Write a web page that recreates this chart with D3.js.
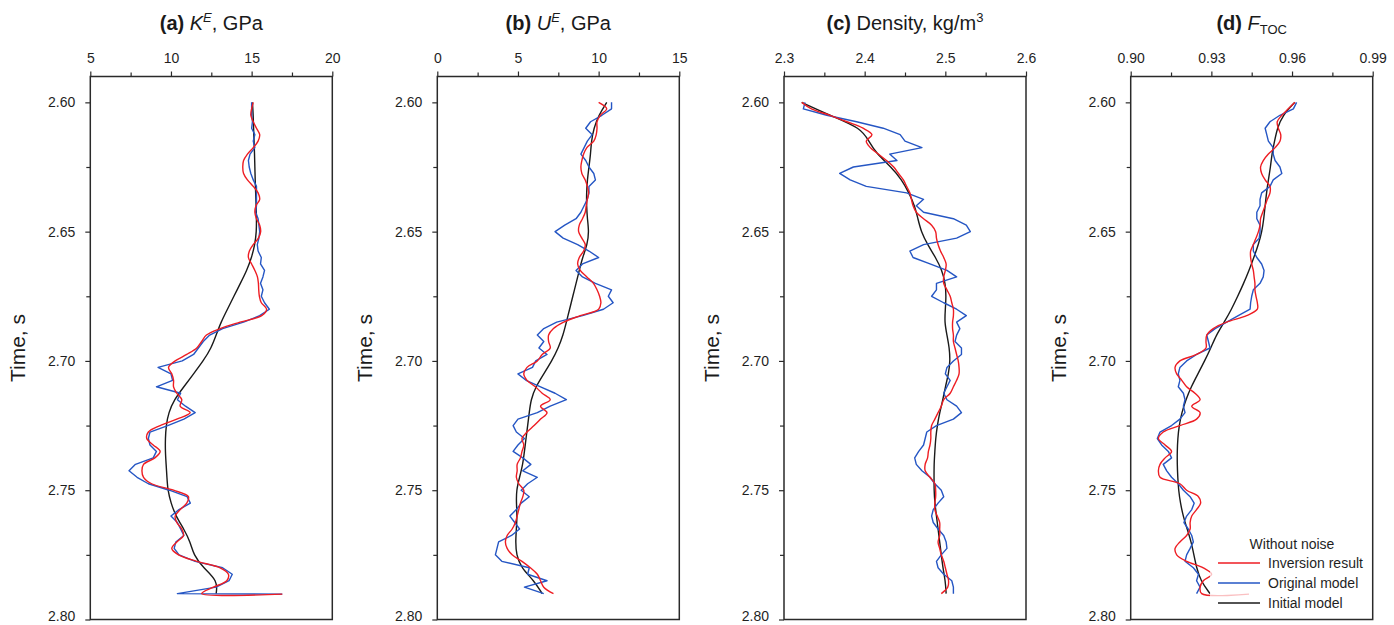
<!DOCTYPE html>
<html>
<head>
<meta charset="utf-8">
<script src="https://cdn.jsdelivr.net/npm/d3@7"></script>
<style>
  html, body { margin: 0; padding: 0; background: #fff; }
  svg { display: block; font-family: "Liberation Sans", Arial, Helvetica, sans-serif; }
</style>
</head>
<body>
<svg id="chart" width="1394" height="625"></svg>
<script>
// ---- sample grids (two-way travel time, s) ----
const timeFine = d3.range(77).map(i => +(2.60 + i * 0.0025).toFixed(4));   // 2.600 .. 2.790
const timeCoarse = d3.range(39).map(i => +(2.60 + i * 0.005).toFixed(3));  // 2.600 .. 2.790
const timeTicks = [2.60, 2.65, 2.70, 2.75, 2.80];
const timeMinor = [2.625, 2.675, 2.725, 2.775];

// ---- (a) effective bulk modulus K^E, GPa ----
const kTicks = [5, 10, 15, 20];
const kMinor = [7.5, 12.5, 17.5];
const kInversion = [15.1, 15.0, 14.95, 15.1, 15.3, 15.5, 15.4, 15.1, 14.74, 14.5,
  14.45, 14.5, 14.74, 15.1, 15.4, 15.5, 15.27, 15.2, 15.3, 15.5,
  15.56, 15.42, 15.1, 14.86, 14.8, 15.0, 15.2, 15.36, 15.42, 15.44,
  15.48, 15.6, 15.93, 15.62, 14.28, 13.05, 12.2, 11.9, 11.6, 10.98,
  10.26, 9.85, 10.05, 10.16, 10.16, 10.36, 10.67, 10.57, 11.19, 10.36,
  9.33, 8.6, 8.5, 8.9, 9.33, 9.0, 8.3, 8.2, 8.3, 8.8,
  10.16, 11.08, 10.98, 10.57, 10.26, 10.36, 10.67, 10.78, 10.36, 10.05,
  10.47, 11.6, 13.05, 13.56, 13.46, 12.63, 11.9];
const kOriginal = [15.0, 15.0, 15.0, 15.05, 15.0, 15.2, 15.1, 15.2, 14.9, 14.8,
  14.85, 14.95, 15.1, 15.3, 15.3, 15.3, 15.3, 15.25, 15.4, 15.45,
  15.5, 15.45, 15.35, 15.4, 15.6, 15.55, 15.8, 15.7, 15.55, 15.7,
  15.6, 15.8, 16.1, 15.5, 14.5, 13.2, 12.4, 12.0, 11.7, 11.4,
  10.7, 9.2, 10.0, 10.1, 9.1, 10.6, 10.4, 10.9, 11.5, 10.8,
  9.8, 8.7, 8.6, 8.7, 9.1, 8.9, 7.8, 7.4, 7.9, 8.6,
  9.9, 11.0, 11.2, 10.5, 10.0, 10.4, 10.6, 10.8, 10.3, 10.2,
  10.5, 11.5, 13.2, 13.8, 13.6, 12.8, 10.4];
const kInitial = [15.05, 15.1, 15.12, 15.15, 15.18, 15.2, 15.22, 15.25, 15.28, 15.3,
  15.3, 15.2, 15.0, 14.7, 14.3, 13.9, 13.5, 13.1, 12.8, 12.5,
  12.0, 11.4, 10.8, 10.2, 9.85, 9.7, 9.65, 9.65, 9.7, 9.75,
  9.8, 10.0, 10.3, 10.8, 11.2, 11.4, 12.0, 12.9, 12.8];
const kInversionEdge = [[2.7902, 16.9]];
const kOriginalEdge = [[2.7902, 16.9]];

// ---- (b) effective shear modulus U^E, GPa ----
const uTicks = [0, 5, 10, 15];
const uMinor = [2.5, 7.5, 12.5];
const uInversion = [10.0, 10.5, 10.1, 9.9, 9.9, 9.85, 9.7, 9.27, 9.07, 8.96,
  8.9, 8.96, 9.17, 9.3, 9.38, 9.3, 9.23, 9.17, 9.0, 8.8,
  8.76, 8.96, 9.17, 9.07, 8.8, 8.7, 8.86, 9.27, 9.68, 9.9,
  10.06, 10.14, 10.0, 8.86, 7.83, 7.2, 6.9, 6.9, 7.0, 6.5,
  6.2, 5.56, 5.36, 5.56, 6.08, 6.5, 7.0, 6.4, 6.8, 6.4,
  6.0, 5.56, 5.25, 5.36, 5.25, 5.15, 4.95, 4.95, 4.9, 5.05,
  5.36, 5.3, 5.15, 5.05, 4.95, 4.84, 4.64, 4.33, 4.22, 4.33,
  4.64, 5.25, 5.77, 6.2, 6.4, 6.6, 7.2];
const uOriginal = [10.8, 10.8, 10.2, 9.5, 9.2, 9.6, 9.3, 9.1, 8.9, 9.2,
  9.4, 9.7, 9.8, 9.4, 9.4, 9.3, 9.1, 8.9, 8.6, 7.9,
  7.3, 7.8, 8.7, 9.4, 10.0, 9.0, 8.6, 9.0, 9.8, 10.8,
  10.6, 10.9, 10.3, 9.0, 7.4, 6.6, 6.2, 6.6, 6.3, 6.8,
  6.1, 5.9, 5.0, 5.5, 6.4, 7.3, 8.0, 7.0, 6.2, 5.0,
  4.7, 4.9, 5.4, 5.0, 4.7, 5.3, 5.8, 5.3, 6.2, 5.6,
  5.2, 5.7, 5.2, 4.9, 4.5, 4.8, 5.1, 4.6, 3.8, 3.7,
  3.6, 4.0, 5.7, 5.6, 6.8, 5.4, 6.6];
const uInitial = [10.5, 10.0, 9.7, 9.55, 9.5, 9.4, 9.3, 9.25, 9.25, 9.3,
  9.4, 9.3, 9.0, 8.8, 8.6, 8.4, 8.2, 8.0, 7.8, 7.5,
  7.1, 6.6, 6.1, 5.8, 5.7, 5.6, 5.5, 5.4, 5.3, 5.1,
  4.9, 4.9, 4.95, 4.9, 4.85, 4.9, 5.2, 6.0, 6.5];

// ---- (c) density ----
const rhoTicks = [2.3, 2.4, 2.5, 2.6];
const rhoMinor = [2.35, 2.45, 2.55];
const rhoInversion = [2.322, 2.334, 2.357, 2.378, 2.398, 2.409, 2.402, 2.407, 2.417, 2.427,
  2.436, 2.442, 2.448, 2.452, 2.456, 2.458, 2.460, 2.464, 2.473, 2.483,
  2.488, 2.489, 2.491, 2.494, 2.498, 2.501, 2.500, 2.498, 2.498, 2.502,
  2.506, 2.508, 2.510, 2.510, 2.509, 2.509, 2.510, 2.510, 2.512, 2.514,
  2.516, 2.517, 2.517, 2.514, 2.510, 2.506, 2.498, 2.495, 2.491, 2.487,
  2.483, 2.482, 2.482, 2.481, 2.479, 2.478, 2.475, 2.475, 2.481, 2.487,
  2.488, 2.488, 2.487, 2.487, 2.490, 2.493, 2.493, 2.493, 2.491, 2.493,
  2.495, 2.498, 2.500, 2.502, 2.504, 2.503, 2.495];
const rhoOriginal = [2.326, 2.324, 2.353, 2.390, 2.423, 2.444, 2.450, 2.471, 2.431, 2.440,
  2.386, 2.369, 2.382, 2.402, 2.452, 2.473, 2.464, 2.473, 2.510, 2.526,
  2.531, 2.514, 2.473, 2.456, 2.460, 2.481, 2.502, 2.514, 2.489, 2.489,
  2.483, 2.498, 2.514, 2.526, 2.514, 2.518, 2.514, 2.512, 2.520, 2.520,
  2.510, 2.502, 2.500, 2.506, 2.502, 2.498, 2.502, 2.514, 2.520, 2.510,
  2.489, 2.477, 2.475, 2.473, 2.467, 2.462, 2.464, 2.471, 2.481, 2.487,
  2.495, 2.498, 2.491, 2.485, 2.483, 2.485, 2.491, 2.498, 2.501, 2.502,
  2.495, 2.489, 2.491, 2.498, 2.508, 2.510, 2.510];
const rhoInitial = [2.322, 2.357, 2.396, 2.405, 2.415, 2.433, 2.446, 2.455, 2.462, 2.466,
  2.470, 2.478, 2.488, 2.496, 2.500, 2.501, 2.500, 2.499, 2.502, 2.505,
  2.506, 2.504, 2.500, 2.497, 2.493, 2.490, 2.488, 2.487, 2.486, 2.486,
  2.486, 2.487, 2.489, 2.491, 2.493, 2.495, 2.497, 2.500, 2.501];

// ---- (d) F_TOC ----
const fTicks = [0.90, 0.93, 0.96, 0.99];
const fMinor = [0.915, 0.945, 0.975];
const fInversion = [0.9611, 0.9586, 0.9562, 0.9545, 0.9549, 0.9558, 0.9555, 0.9537, 0.9512, 0.9493,
  0.9483, 0.9487, 0.9500, 0.9518, 0.9518, 0.9508, 0.9500, 0.9491, 0.9483, 0.9481,
  0.9475, 0.9466, 0.9456, 0.9446, 0.9446, 0.9450, 0.9456, 0.9459, 0.9462, 0.9462,
  0.9466, 0.9471, 0.9471, 0.9431, 0.9357, 0.9307, 0.9283, 0.9280, 0.9280, 0.9245,
  0.9183, 0.9165, 0.9171, 0.9190, 0.9208, 0.9239, 0.9258, 0.9227, 0.9258, 0.9245,
  0.9183, 0.9121, 0.9103, 0.9128, 0.9152, 0.9128, 0.9109, 0.9103, 0.9109, 0.9183,
  0.9208, 0.9252, 0.9260, 0.9245, 0.9227, 0.9221, 0.9221, 0.9208, 0.9183, 0.9165,
  0.9171, 0.9208, 0.9270, 0.9301, 0.9270, 0.9258, 0.9264];
const fOriginal = [0.9617, 0.9605, 0.9555, 0.9518, 0.9500, 0.9506, 0.9512, 0.9530, 0.9530, 0.9537,
  0.9555, 0.9562, 0.9530, 0.9518, 0.9487, 0.9481, 0.9481, 0.9469, 0.9469, 0.9481,
  0.9481, 0.9478, 0.9456, 0.9456, 0.9469, 0.9487, 0.9496, 0.9493, 0.9481, 0.9456,
  0.9450, 0.9446, 0.9444, 0.9400, 0.9357, 0.9314, 0.9283, 0.9289, 0.9295, 0.9245,
  0.9208, 0.9183, 0.9177, 0.9183, 0.9177, 0.9196, 0.9202, 0.9196, 0.9202, 0.9183,
  0.9152, 0.9109, 0.9099, 0.9115, 0.9140, 0.9152, 0.9121, 0.9134, 0.9152, 0.9177,
  0.9196, 0.9221, 0.9236, 0.9227, 0.9208, 0.9198, 0.9214, 0.9227, 0.9233, 0.9221,
  0.9208, 0.9202, 0.9233, 0.9252, 0.9245, 0.9258, 0.9245];
const fInitial = [0.9610, 0.9565, 0.9545, 0.9535, 0.9525, 0.9520, 0.9512, 0.9505, 0.9500, 0.9495,
  0.9488, 0.9475, 0.9458, 0.9440, 0.9420, 0.9398, 0.9375, 0.9348, 0.9318, 0.9298,
  0.9275, 0.9250, 0.9225, 0.9205, 0.9190, 0.9180, 0.9175, 0.9173, 0.9173, 0.9175,
  0.9178, 0.9185, 0.9195, 0.9210, 0.9225, 0.9235, 0.9245, 0.9260, 0.9295];
const fInversionEdge = [[2.7902, 0.944]];

const legendTitle = "Without noise";
const legendLabels = ["Inversion result", "Original model", "Initial model"];

// ---- styling / layout ----
const COLORS = { inv: "#ee1d23", orig: "#2556c4", init: "#1a1a1a" };
const PANEL_W = 242;
const PANEL_LEFT = [90.3, 437.3, 784, 1130.7];
const TOP = 76.5, BOTTOM = 619.5;

const svg = d3.select("#chart");

const y = d3.scaleLinear().domain([2.59, 2.80]).range([TOP, BOTTOM]);

const pairs = (times, vals) => vals.map((v, i) => [times[i], v]);

const panels = [
  { title: [["(a) ", "bold"], ["K", "italic"], ["E", "italic sup"], [", GPa", ""]],
    domain: [5, 20], ticks: kTicks, minor: kMinor, fmt: d3.format("d"),
    inv: pairs(timeFine, kInversion).concat(kInversionEdge),
    orig: pairs(timeFine, kOriginal).concat(kOriginalEdge),
    init: pairs(timeCoarse, kInitial) },
  { title: [["(b) ", "bold"], ["U", "italic"], ["E", "italic sup"], [", GPa", ""]],
    domain: [0, 15], ticks: uTicks, minor: uMinor, fmt: d3.format("d"),
    inv: pairs(timeFine, uInversion),
    orig: pairs(timeFine, uOriginal),
    init: pairs(timeCoarse, uInitial) },
  { title: [["(c) ", "bold"], ["Density, kg/m", ""], ["3", "sup"]],
    domain: [2.3, 2.6], ticks: rhoTicks, minor: rhoMinor, fmt: d3.format(".1f"),
    inv: pairs(timeFine, rhoInversion),
    orig: pairs(timeFine, rhoOriginal),
    init: pairs(timeCoarse, rhoInitial) },
  { title: [["(d) ", "bold"], ["F", "italic"], ["TOC", "sub"]],
    domain: [0.90, 0.99], ticks: fTicks, minor: fMinor, fmt: d3.format(".2f"),
    inv: pairs(timeFine, fInversion).concat(fInversionEdge),
    orig: pairs(timeFine, fOriginal),
    init: pairs(timeCoarse, fInitial), legend: true }
];

function drawTitle(g, parts, cx) {
  const t = g.append("text")
    .attr("x", cx).attr("y", 30)
    .attr("text-anchor", "middle")
    .attr("font-size", 20).attr("fill", "#1a1a1a");
  let shift = 0;
  parts.forEach(([txt, style]) => {
    const s = t.append("tspan").text(txt);
    if (style.includes("bold")) s.attr("font-weight", "bold");
    if (style.includes("italic")) s.attr("font-style", "italic");
    let target = 0;
    if (style.includes("sup")) { s.attr("font-size", 13); target = -8; }
    if (style.includes("sub")) { s.attr("font-size", 13); target = 4; }
    s.attr("dy", target - shift);
    shift = target;
  });
}

panels.forEach((p, i) => {
  const x0 = PANEL_LEFT[i];
  const x = d3.scaleLinear().domain(p.domain).range([x0, x0 + PANEL_W]);
  const g = svg.append("g");

  // data curves: initial model, original model, inversion result
  const line = (curve) => d3.line().x(d => x(d[1])).y(d => y(d[0])).curve(curve);
  g.append("path").datum(p.init)
    .attr("d", line(d3.curveBasis))
    .attr("fill", "none").attr("stroke", COLORS.init).attr("stroke-width", 1.4);
  g.append("path").datum(p.orig)
    .attr("d", line(d3.curveLinear))
    .attr("fill", "none").attr("stroke", COLORS.orig).attr("stroke-width", 1.4)
    .attr("stroke-linejoin", "round");
  g.append("path").datum(p.inv)
    .attr("d", line(d3.curveCatmullRom.alpha(0.5)))
    .attr("fill", "none").attr("stroke", COLORS.inv).attr("stroke-width", 1.4)
    .attr("stroke-linejoin", "round");

  // top value axis (major + minor ticks)
  const top = g.append("g").attr("transform", `translate(0,${TOP})`);
  top.call(d3.axisTop(x).tickValues(p.ticks).tickFormat(p.fmt).tickSize(5).tickPadding(9));
  top.append("g").call(d3.axisTop(x).tickValues(p.minor).tickFormat("").tickSize(4));

  // left time axis
  const left = g.append("g").attr("transform", `translate(${x0},0)`);
  left.call(d3.axisLeft(y).tickValues(timeTicks).tickFormat(d3.format(".2f")).tickSize(5).tickPadding(10));
  left.append("g").call(d3.axisLeft(y).tickValues(timeMinor).tickFormat("").tickSize(4));

  g.selectAll(".domain").remove();
  g.selectAll(".tick line").attr("stroke", "#2a2a2a").attr("stroke-width", 1.2);
  g.selectAll(".tick text").attr("font-size", 14).attr("fill", "#1f1f1f")
    .attr("font-family", "'Liberation Sans', Arial, sans-serif");
  // keep the lowest time label inside the canvas
  left.selectAll(".tick text").filter(d => d === 2.80).attr("dy", "0.05em");

  // frame
  g.append("rect")
    .attr("x", x0).attr("y", TOP).attr("width", PANEL_W).attr("height", BOTTOM - TOP)
    .attr("fill", "none").attr("stroke", "#2a2a2a").attr("stroke-width", 1.5);

  drawTitle(g, p.title, x0 + PANEL_W / 2);

  g.append("text")
    .attr("transform", `translate(${x0 - 65},${(TOP + BOTTOM) / 2}) rotate(-90)`)
    .attr("text-anchor", "middle")
    .attr("font-size", 21).attr("fill", "#1a1a1a")
    .text("Time, s");

  if (p.legend) {
    const lg = g.append("g");
    lg.append("rect")
      .attr("x", 1210).attr("y", 530).attr("width", 161).attr("height", 88)
      .attr("fill", "#fff").attr("fill-opacity", 0.72);
    lg.append("text").attr("x", 1292).attr("y", 549)
      .attr("text-anchor", "middle").attr("font-size", 14).attr("fill", "#1f1f1f")
      .text(legendTitle);
    [COLORS.inv, COLORS.orig, COLORS.init].forEach((c, k) => {
      const yy = 563 + k * 20;
      lg.append("line").attr("x1", 1218).attr("x2", 1260).attr("y1", yy).attr("y2", yy)
        .attr("stroke", c).attr("stroke-width", 1.5);
      lg.append("text").attr("x", 1268).attr("y", yy + 5)
        .attr("font-size", 14).attr("fill", "#1f1f1f").text(legendLabels[k]);
    });
  }
});
</script>
</body>
</html>
